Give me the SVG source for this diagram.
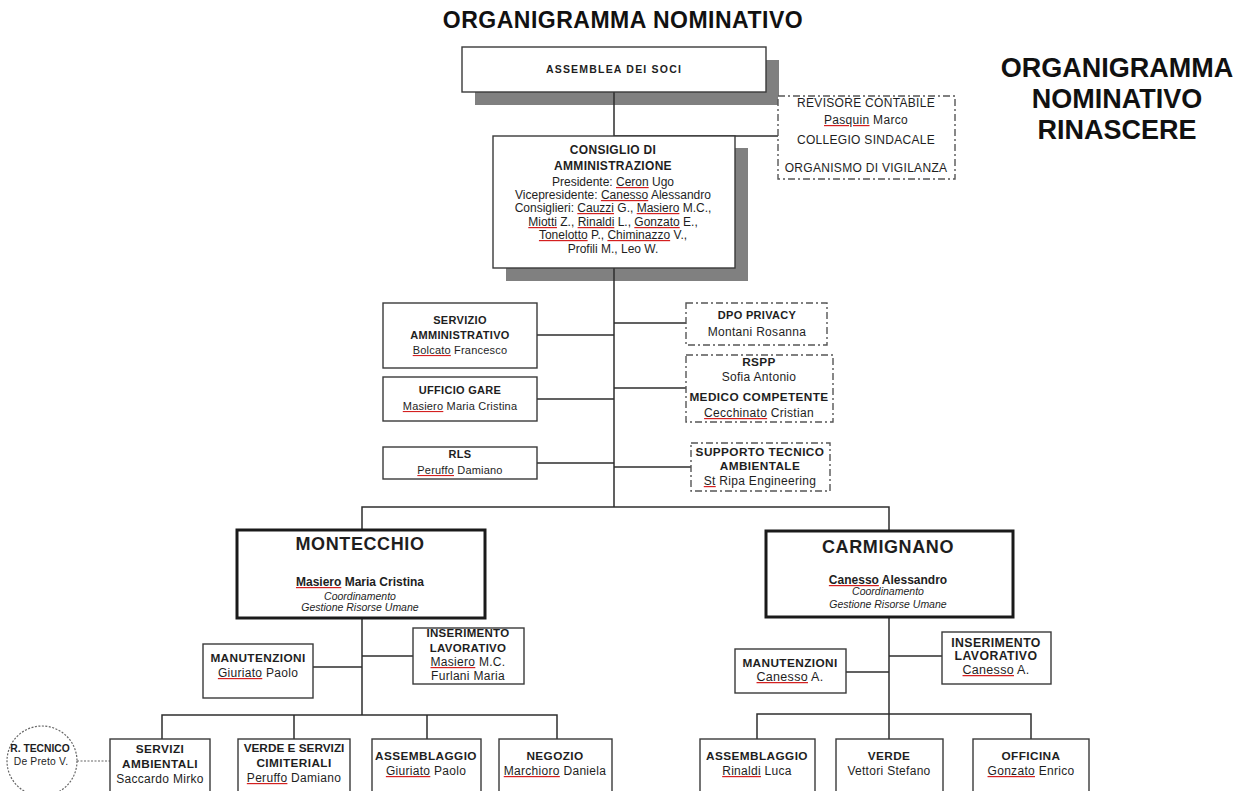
<svg xmlns="http://www.w3.org/2000/svg" width="1245" height="791" viewBox="0 0 1245 791">
<style>
text{font-family:"Liberation Sans",Arial,sans-serif;fill:#1e1e1e;text-anchor:middle}
.t{font-size:23px;font-weight:bold;fill:#111;letter-spacing:0.5px}
.rt{font-size:27px;font-weight:bold;fill:#111}
.b{font-size:11px;font-weight:bold;letter-spacing:0.3px}
.r{font-size:11px;letter-spacing:0.2px}
.b2{font-size:11.8px;font-weight:bold;letter-spacing:0.4px}
.r2{font-size:12px;letter-spacing:0.3px}
.c{font-size:12px}
.cb{font-size:12px;font-weight:bold;letter-spacing:0.3px}
.big{font-size:18px;font-weight:bold;letter-spacing:0.6px}
.nm{font-size:12px;font-weight:bold}
.it{font-size:10.5px;font-style:italic}
.u{fill:#d42020;text-decoration:underline}
.u tspan{fill:#1e1e1e}
.box{fill:#fff;stroke:#3a3a3a;stroke-width:1.4}
.thick{fill:#fff;stroke:#1a1a1a;stroke-width:3}
.dash{fill:#fff;stroke:#555;stroke-width:1.4;stroke-dasharray:7 3 2 3}
.sh{fill:#808080}
.ln{fill:none;stroke:#2e2e2e;stroke-width:1.5}
.dot{fill:none;stroke:#666;stroke-width:1.2;stroke-dasharray:2 1.5}
</style>
<text class="t" x="623" y="28">ORGANIGRAMMA NOMINATIVO</text>
<g id="title-right">
<text class="rt" x="1117" y="77">ORGANIGRAMMA</text>
<text class="rt" x="1117" y="108">NOMINATIVO</text>
<text class="rt" x="1117" y="139">RINASCERE</text>
</g>
<g id="shadows">
<rect class="sh" x="475" y="60" width="304" height="45"/>
<rect class="sh" x="506" y="148" width="242" height="133"/>
</g>
<g id="connectors">
<path class="ln" d="M614 92V507M614 136H778"/>
<path class="ln" d="M537 335H614M537 399H614M537 463H614M614 323H686M614 388H686M614 467H691"/>
<path class="ln" d="M362 530V507H889V531"/>
<path class="ln" d="M362 618V715M313 667H362M362 656H413M162 739V715H557V739M294 715V739M427 715V739"/>
<path class="ln" d="M889 617V714M846 672H889M889 656H942M757 739V714H1031V739M889 714V739"/>
<path class="dot" d="M77 761H110"/>
</g>
<g id="assemblea">
<rect class="box" x="462" y="47" width="304" height="45"/>
<text class="b" x="614" y="73" style="letter-spacing:1.2px;font-size:10.5px">ASSEMBLEA DEI SOCI</text>
</g>
<g id="organi-controllo">
<rect class="dash" x="778" y="96" width="177" height="83"/>
<text class="r2" x="866" y="107">REVISORE  CONTABILE</text>
<text class="r2" x="866" y="124"><tspan class="u"><tspan>Pasquin</tspan></tspan> Marco</text>
<text class="r2" x="866" y="144">COLLEGIO SINDACALE</text>
<text class="r2" x="866" y="172">ORGANISMO DI VIGILANZA</text>
</g>
<g id="cda">
<rect class="box" x="493" y="136" width="242" height="132"/>
<text class="cb" x="613" y="154">CONSIGLIO DI</text>
<text class="cb" x="613" y="170">AMMINISTRAZIONE</text>
<text class="c" x="613" y="186">Presidente: <tspan class="u"><tspan>Ceron</tspan></tspan> Ugo</text>
<text class="c" x="613" y="199">Vicepresidente: <tspan class="u"><tspan>Canesso</tspan></tspan> Alessandro</text>
<text class="c" x="613" y="212">Consiglieri: <tspan class="u"><tspan>Cauzzi</tspan></tspan> G., <tspan class="u"><tspan>Masiero</tspan></tspan> M.C.,</text>
<text class="c" x="613" y="226"><tspan class="u"><tspan>Miotti</tspan></tspan> Z.,  <tspan class="u"><tspan>Rinaldi</tspan></tspan> L., <tspan class="u"><tspan>Gonzato</tspan></tspan> E.,</text>
<text class="c" x="613" y="239"><tspan class="u"><tspan>Tonelotto</tspan></tspan> P., <tspan class="u"><tspan>Chiminazzo</tspan></tspan> V.,</text>
<text class="c" x="613" y="253">Profili M., Leo W.</text>
</g>
<g id="servizio-amministrativo">
<rect class="box" x="383" y="303" width="154" height="65"/>
<text class="b" x="460" y="324">SERVIZIO</text>
<text class="b" x="460" y="339">AMMINISTRATIVO</text>
<text class="r" x="460" y="354"><tspan class="u"><tspan>Bolcato</tspan></tspan> Francesco</text>
</g>
<g id="ufficio-gare">
<rect class="box" x="383" y="377" width="154" height="44"/>
<text class="b" x="460" y="394">UFFICIO GARE</text>
<text class="r" x="460" y="410"><tspan class="u"><tspan>Masiero</tspan></tspan> Maria Cristina</text>
</g>
<g id="rls">
<rect class="box" x="383" y="447" width="154" height="32"/>
<text class="b" x="460" y="458">RLS</text>
<text class="r" x="460" y="474"><tspan class="u"><tspan>Peruffo</tspan></tspan> Damiano</text>
</g>
<g id="dpo">
<rect class="dash" x="686" y="303" width="141" height="42"/>
<text class="b" x="757" y="319">DPO PRIVACY</text>
<text class="r2" x="757" y="336">Montani Rosanna</text>
</g>
<g id="rspp">
<rect class="dash" x="686" y="355" width="147" height="67"/>
<text class="b2" x="759" y="366">RSPP</text>
<text class="r2" x="759" y="381">Sofia Antonio</text>
<text class="b2" x="759" y="401">MEDICO COMPETENTE</text>
<text class="r2" x="759" y="417"><tspan class="u"><tspan>Cecchinato</tspan></tspan> Cristian</text>
</g>
<g id="supporto">
<rect class="dash" x="691" y="443" width="139" height="48"/>
<text class="b2" x="760" y="456">SUPPORTO TECNICO</text>
<text class="b2" x="760" y="470">AMBIENTALE</text>
<text class="r2" x="760" y="485"><tspan class="u"><tspan>St</tspan></tspan> Ripa Engineering</text>
</g>
<g id="montecchio">
<rect class="thick" x="237" y="530" width="248" height="88"/>
<text class="big" x="360" y="550">MONTECCHIO</text>
<text class="nm" x="360" y="586"><tspan class="u"><tspan>Masiero</tspan></tspan> Maria Cristina</text>
<text class="it" x="360" y="600">Coordinamento</text>
<text class="it" x="360" y="611">Gestione Risorse Umane</text>
</g>
<g id="carmignano">
<rect class="thick" x="766" y="531" width="247" height="86"/>
<text class="big" x="888" y="553">CARMIGNANO</text>
<text class="nm" x="888" y="584"><tspan class="u"><tspan>Canesso</tspan></tspan> Alessandro</text>
<text class="it" x="888" y="595">Coordinamento</text>
<text class="it" x="888" y="608">Gestione Risorse Umane</text>
</g>
<g id="manutenzioni-m">
<rect class="box" x="203" y="644" width="110" height="54"/>
<text class="b2" x="258" y="662">MANUTENZIONI</text>
<text class="r2" x="258" y="677"><tspan class="u"><tspan>Giuriato</tspan></tspan> Paolo</text>
</g>
<g id="inserimento-m">
<rect class="box" x="413" y="628" width="111" height="56"/>
<text class="b" x="468" y="637" style="font-size:11.5px">INSERIMENTO</text>
<text class="b" x="468" y="652" style="font-size:11.5px">LAVORATIVO</text>
<text class="r2" x="468" y="666"><tspan class="u"><tspan>Masiero</tspan></tspan> M.C.</text>
<text class="r2" x="468" y="680">Furlani Maria</text>
</g>
<g id="manutenzioni-c">
<rect class="box" x="735" y="649" width="111" height="44"/>
<text class="b2" x="790" y="667">MANUTENZIONI</text>
<text class="r2" x="790" y="681" style="font-size:12.5px"><tspan class="u"><tspan>Canesso</tspan></tspan> A.</text>
</g>
<g id="inserimento-c">
<rect class="box" x="942" y="632" width="109" height="52"/>
<text class="b2" x="996" y="647" style="font-size:12.3px">INSERIMENTO</text>
<text class="b2" x="996" y="660" style="font-size:12.3px">LAVORATIVO</text>
<text class="r2" x="996" y="674" style="font-size:12.5px"><tspan class="u"><tspan>Canesso</tspan></tspan> A.</text>
</g>
<g id="r-tecnico">
<circle cx="42" cy="761" r="35" fill="#fff" stroke="#666" stroke-width="1.2" stroke-dasharray="2 1.5"/>
<text class="b" x="40" y="752" style="font-size:10.3px;letter-spacing:0">R. TECNICO</text>
<text class="r" x="41" y="765" style="font-size:10.3px">De Preto V.</text>
</g>
<g id="servizi-ambientali">
<rect class="box" x="110" y="739" width="100" height="70"/>
<text class="b2" x="160" y="753">SERVIZI</text>
<text class="b2" x="160" y="768">AMBIENTALI</text>
<text class="r2" x="160" y="783">Saccardo Mirko</text>
</g>
<g id="verde-cimiteriali">
<rect class="box" x="238" y="739" width="112" height="70"/>
<text class="b2" x="294" y="752" style="letter-spacing:0">VERDE E SERVIZI</text>
<text class="b2" x="294" y="767">CIMITERIALI</text>
<text class="r2" x="294" y="782"><tspan class="u"><tspan>Peruffo</tspan></tspan> Damiano</text>
</g>
<g id="assemblaggio-m">
<rect class="box" x="372" y="739" width="109" height="70"/>
<text class="b2" x="426" y="760">ASSEMBLAGGIO</text>
<text class="r2" x="426" y="775"><tspan class="u"><tspan>Giuriato</tspan></tspan> Paolo</text>
</g>
<g id="negozio">
<rect class="box" x="499" y="739" width="113" height="70"/>
<text class="b2" x="555" y="760">NEGOZIO</text>
<text class="r2" x="555" y="775"><tspan class="u"><tspan>Marchioro</tspan></tspan> Daniela</text>
</g>
<g id="assemblaggio-c">
<rect class="box" x="700" y="739" width="115" height="70"/>
<text class="b2" x="757" y="760">ASSEMBLAGGIO</text>
<text class="r2" x="757" y="775"><tspan class="u"><tspan>Rinaldi</tspan></tspan> Luca</text>
</g>
<g id="verde-c">
<rect class="box" x="836" y="739" width="107" height="70"/>
<text class="b2" x="889" y="760">VERDE</text>
<text class="r2" x="889" y="775">Vettori Stefano</text>
</g>
<g id="officina">
<rect class="box" x="973" y="739" width="116" height="70"/>
<text class="b2" x="1031" y="760">OFFICINA</text>
<text class="r2" x="1031" y="775"><tspan class="u"><tspan>Gonzato</tspan></tspan> Enrico</text>
</g>
</svg>
